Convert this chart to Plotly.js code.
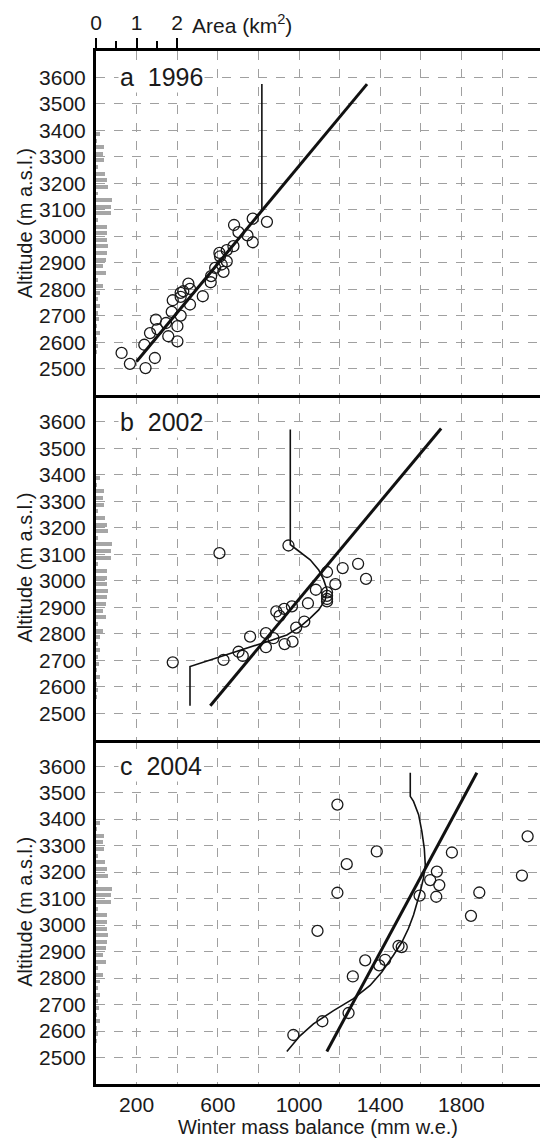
<!DOCTYPE html>
<html>
<head>
<meta charset="utf-8">
<script src="https://cdn.plot.ly/plotly-3.0.1.min.js"></script>
<style>html,body{margin:0;padding:0;background:#fff;}#chart{width:540px;height:1138px;}</style>
</head>
<body>
<div id="chart"></div>
<script>
// ---------- Data ----------
// Panel a, 1996
const a_obs_mb  = [126,167,244,290,238,266,295,302,345,356,401,401,417,373,378,417,417,430,455,463,463,526,565,567,608,611,628,619,644,644,677,680,702,746,772,772,842,587];
const a_obs_alt = [2560,2519,2503,2541,2591,2635,2686,2650,2673,2623,2604,2661,2701,2715,2759,2787,2772,2793,2822,2802,2743,2774,2827,2850,2938,2925,2866,2894,2906,2948,2963,3043,3016,3004,2978,3067,3055,2881];
const a_fit_mb  = [200,1335];
const a_fit_alt = [2528,3575];
const a_mod_mb  = [200,817,817];
const a_mod_alt = [2528,3096,3575];

// Panel b, 2002
const b_obs_mb  = [948,608,378,1138,1215,1291,1330,1179,1083,1138,1138,1138,1138,1044,965,927,888,904,1026,986,837,759,874,837,929,968,702,723,628];
const b_obs_alt = [3133,3104,2692,3033,3048,3064,3007,2987,2966,2956,2943,2931,2922,2915,2903,2894,2884,2867,2846,2823,2802,2789,2783,2749,2761,2770,2732,2716,2701];
const b_fit_mb  = [563,1700];
const b_fit_alt = [2528,3575];
const b_mod_mb  = [957,957,990,1055,1097,1121,1138,1129,1097,1055,1006,940,842,743,644,545,463,463];
const b_mod_alt = [3571,3136,3117,3079,3041,3004,2966,2928,2890,2859,2827,2795,2770,2745,2720,2695,2676,2528];

// Panel c, 2004
const c_obs_mb  = [1189,1383,1235,1189,1091,1753,2126,2098,1679,1646,1691,1676,1594,1888,1847,1490,1506,1326,1424,1395,1265,1244,1115,972];
const c_obs_alt = [3455,3278,3230,3122,2978,3274,3335,3187,3202,3170,3151,3107,3111,3123,3035,2921,2917,2867,2869,2848,2806,2668,2637,2585];
const c_fit_mb  = [1137,1876];
const c_fit_alt = [2523,3575];
const c_mod_mb  = [1548,1548,1564,1589,1605,1617,1622,1613,1597,1580,1564,1539,1507,1465,1408,1350,1268,1170,1071,1005,940];
const c_mod_alt = [3575,3486,3467,3417,3354,3290,3227,3177,3126,3075,3038,2987,2936,2886,2823,2772,2722,2677,2627,2582,2523];

// Glacier area per altitude band (km2), same hypsometry shown in each panel
const band_alt  = [3387,3362,3337,3312,3287,3262,3237,3212,3187,3162,3137,3112,3087,3062,3037,3012,2987,2962,2937,2912,2887,2862,2837,2812,2787,2762,2737,2712,2687,2662,2637,2612,2587,2562];
const band_area = [0.10,0.03,0.20,0.18,0.20,0.05,0.21,0.28,0.30,0.05,0.40,0.38,0.38,0.05,0.28,0.26,0.28,0.30,0.26,0.24,0.16,0.24,0.05,0.16,0.10,0.05,0.11,0.05,0.07,0.03,0.10,0.03,0.05,0.02];

const panelLabels = ['a\u00a0\u00a01996','b\u00a0\u00a02002','c\u00a0\u00a02004'];
const altTicks = [2500,2600,2700,2800,2900,3000,3100,3200,3300,3400,3500,3600];
const mbGrid   = [200,400,600,800,1000,1200,1400,1600,1800,2000,2200];
const mbLabels = ['200','','600','','1000','','1400','','1800','',''];
const areaTicks = [0,1,2];
const areaMinor = [0.5,1.5];

// ---------- Figure ----------
const mbRange = [0, 2187];
const areaRange = [0, mbRange[1] / 200];   // 1 km2 on top axis spans 200 mm w.e.
const altRange = [2400, 3700];
const FONT = 'Liberation Sans, Arial, Helvetica, sans-serif';
const TXT = '#1a1a1a';
const gridCol = '#a0a0a0';

function obs(x, y, xa, ya) {
  return {type:'scatter', mode:'markers', x:x, y:y, xaxis:xa, yaxis:ya,
    marker:{symbol:'circle-open', size:11, color:'#1a1a1a', line:{width:1.3}}, hoverinfo:'skip'};
}
function line(x, y, xa, ya, w) {
  return {type:'scatter', mode:'lines', x:x, y:y, xaxis:xa, yaxis:ya,
    line:{color:'#111', width:w}, hoverinfo:'skip'};
}
function bars(xa, ya) {
  return {type:'bar', orientation:'h', x:band_area, y:band_alt, xaxis:xa, yaxis:ya,
    marker:{color:'#a6a6a6', line:{width:0}}, width:15, hoverinfo:'skip'};
}

const data = [
  bars('x4','y'), bars('x5','y2'), bars('x6','y3'),
  obs(a_obs_mb, a_obs_alt, 'x3', 'y'),
  line(a_mod_mb, a_mod_alt, 'x3', 'y', 1.6),
  line(a_fit_mb, a_fit_alt, 'x3', 'y', 3),
  obs(b_obs_mb, b_obs_alt, 'x2', 'y2'),
  line(b_mod_mb, b_mod_alt, 'x2', 'y2', 1.6),
  line(b_fit_mb, b_fit_alt, 'x2', 'y2', 3),
  obs(c_obs_mb, c_obs_alt, 'x', 'y3'),
  line(c_mod_mb, c_mod_alt, 'x', 'y3', 1.6),
  line(c_fit_mb, c_fit_alt, 'x', 'y3', 3)
];

function mbAxis(anchor, labels) {
  return {anchor:anchor, range:mbRange, tickmode:'array', tickvals:mbGrid, ticktext:mbLabels,
    showticklabels:labels, ticks:'', showgrid:true, gridcolor:gridCol, griddash:'dash', gridwidth:1,
    zeroline:false, showline:true, linecolor:'#000', linewidth:3, side:'bottom',
    tickfont:{size:21, family:FONT, color:TXT}, fixedrange:true};
}
function altAxis(domain, anchor) {
  return {domain:domain, anchor:anchor, range:altRange, tickmode:'array', tickvals:altTicks,
    ticks:'outside', ticklen:3, tickcolor:'rgba(0,0,0,0)', showgrid:true, gridcolor:gridCol, griddash:'dash', gridwidth:1,
    zeroline:false, showline:true, linecolor:'#000', linewidth:3,
    tickfont:{size:21, family:FONT, color:TXT},
    title:{text:'Altitude (m a.s.l.)', font:{size:20, family:FONT, color:TXT}, standoff:2}};
}

const xMain = mbAxis('y3', true);
xMain.title = {text:'Winter mass balance (mm w.e.)', font:{size:20, family:FONT, color:TXT}, standoff:0};
const x2 = mbAxis('y2', false); x2.matches = 'x';
const x3 = mbAxis('y', false);  x3.matches = 'x';

const layout = {
  width:540, height:1138,
  margin:{l:96, r:0, t:51, b:54},
  paper_bgcolor:'#fff', plot_bgcolor:'#fff',
  font:{family:FONT, size:20, color:TXT},
  showlegend:false, bargap:0,
  xaxis: xMain, xaxis2: x2, xaxis3: x3,
  xaxis4:{overlaying:'x3', anchor:'y', side:'top', range:areaRange, tickmode:'array',
    tickvals:areaTicks, ticktext:['0','1','2'], ticks:'outside', ticklen:10, tickwidth:2, tickcolor:'#000',
    minor:{tickmode:'array', tickvals:areaMinor, ticks:'outside', ticklen:7, tickwidth:2, tickcolor:'#000', showgrid:false},
    showgrid:false, zeroline:false, showline:true, linecolor:'#000', linewidth:3,
    tickfont:{size:21, family:FONT, color:TXT}, fixedrange:true},
  xaxis5:{overlaying:'x2', anchor:'y2', range:areaRange, visible:false},
  xaxis6:{overlaying:'x', anchor:'y3', range:areaRange, visible:false},
  yaxis: altAxis([2/3, 1], 'x3'),
  yaxis2: altAxis([1/3, 2/3], 'x2'),
  yaxis3: altAxis([0, 1/3], 'x'),
  annotations: [
    {text:'Area (km<sup>2</sup>)', xref:'paper', yref:'paper', x:0.212, y:1, xanchor:'left', yanchor:'bottom', yshift:12,
      showarrow:false, font:{size:21, family:FONT, color:TXT}},
  ].concat(['y','y2','y3'].map((ya, i) => ({
      text: panelLabels[i], xref: ['x3','x2','x'][i] + ' domain', yref: ya, x: 0.05, y: 3600,
      xanchor:'left', yanchor:'middle', showarrow:false, bgcolor:'#fff', borderpad:1,
      font:{size:25, family:FONT, color:TXT}
  })))
};

Plotly.newPlot('chart', data, layout, {displayModeBar:false, staticPlot:true});
</script>
</body>
</html>
